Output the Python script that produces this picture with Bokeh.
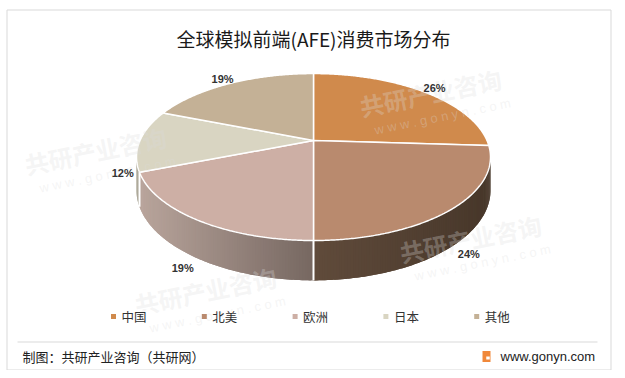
import numpy as np
from bokeh.plotting import figure
from bokeh.models import Range1d
from bokeh.core.properties import value
from bokeh.embed import file_html
from bokeh.resources import INLINE

# ---------------- data ----------------
categories = ["中国", "北美", "欧洲", "日本", "其他"]
shares = [26, 24, 19, 12, 19]
top_colors = ["#D08A4C", "#B98A6E", "#CDAFA5", "#D9D5C2", "#C4B196"]
side_left_colors = ["#7A5232", "#604B3B", "#B9A59C", "#AEA998", "#8E7E66"]
side_right_colors = ["#6A4628", "#47372A", "#766761", "#9E9A8A", "#7E6E58"]
title_text = "全球模拟前端(AFE)消费市场分布"
source_text = "制图：共研产业咨询（共研网）"
site_text = "www.gonyn.com"
wm_cn = "共研产业咨询"
wm_en = "w w w . g o n y n . c o m"

# ---------------- geometry (page pixel coords) ----------------
CX, CY = 313.0, 140.0      # projected pie centre
A, B = 173.5, 80.2         # half axes
E = 0.198                  # perspective factor
D = 32.0                   # thickness
FONT_CJK = "Noto Sans CJK SC"


def proj(theta_deg, r=1.0):
    t = np.radians(theta_deg)
    u = r * np.sin(t)
    v = -r * np.cos(t)
    w = 1 - E * v
    return CX + A * u / w, CY + B * v / w


def depth(theta_deg):
    v = -np.cos(np.radians(theta_deg))
    return D / (1 - E * v)


def hex2rgb(h):
    h = h.lstrip("#")
    return np.array([int(h[i:i + 2], 16) for i in (0, 2, 4)], dtype=float)


def lerp_color(c1, c2, t):
    c = hex2rgb(c1) * (1 - t) + hex2rgb(c2) * t
    return "#%02x%02x%02x" % tuple(int(round(x)) for x in c)


p = figure(width=617, height=370, x_range=Range1d(0, 617), y_range=Range1d(370, 0),
           output_backend="svg", toolbar_location=None, min_border=0,
           x_axis_type=None, y_axis_type=None)
p.grid.visible = False
p.outline_line_color = None
p.background_fill_color = "white"
p.border_fill_color = "white"

# outer border + footer separator
p.patch([6.5, 610.5, 610.5, 6.5], [9.5, 9.5, 369.5, 369.5], fill_color=None,
        line_color="#D9D9D9", line_width=1)
p.line([17, 597], [341.5, 341.5], line_color="#D9D9D9", line_width=1)

# slice angles
total = float(sum(shares))
starts = np.concatenate([[0], np.cumsum(shares)[:-1]]) / total * 360.0
ends = np.cumsum(shares) / total * 360.0

vis_a = np.degrees(np.arccos(-E))
vis_b = 360.0 - vis_a

# ---------------- sides ----------------
sx, sy, sc = [], [], []
for i in range(len(shares)):
    a, b = max(starts[i], vis_a), min(ends[i], vis_b)
    if a >= b:
        continue
    n = max(int((b - a) / 0.75), 2)
    th = np.linspace(a, b, n + 1)
    pts = [proj(t) for t in th]
    xs_all = [q[0] for q in pts]
    xmin, xmax = min(xs_all), max(xs_all)
    for k in range(n):
        k2 = min(k + 2, n)          # overlap next strip to hide seams
        idx = list(range(k, k2 + 1))
        xm = 0.5 * (pts[k][0] + pts[k + 1][0])
        tt = 0.0 if xmax == xmin else (xm - xmin) / (xmax - xmin)
        sx.append([pts[j][0] for j in idx] + [pts[j][0] for j in idx[::-1]])
        sy.append([pts[j][1] for j in idx] + [pts[j][1] + depth(th[j]) for j in idx[::-1]])
        sc.append(lerp_color(side_left_colors[i], side_right_colors[i], tt))
p.patches(sx, sy, fill_color=sc, line_color=None)

# white separators on the side
sep_x, sep_y = [], []
for ang in list(starts):
    if vis_a < ang < vis_b:
        x0, y0 = proj(ang)
        sep_x.append([x0, x0])
        sep_y.append([y0, y0 + depth(ang)])
p.multi_line(sep_x, sep_y, line_color="white", line_width=2)

# ---------------- top ----------------
tx, ty = [], []
for i in range(len(shares)):
    n = max(int((ends[i] - starts[i]) / 0.5), 2)
    th = np.linspace(starts[i], ends[i], n + 1)
    pts = [proj(t) for t in th]
    tx.append([CX] + [q[0] for q in pts])
    ty.append([CY] + [q[1] for q in pts])
p.patches(tx, ty, fill_color=top_colors, line_color="white", line_width=1.5)

# ---------------- watermarks ----------------
wm_pos = [(95, 150), (430, 92), (470, 238), (205, 290)]
p.text([q[0] for q in wm_pos], [q[1] for q in wm_pos], text=[wm_cn] * len(wm_pos),
       text_font=value(FONT_CJK), text_font_style="bold", text_font_size="24px",
       text_color="#DCDCDC", text_alpha=0.3, text_align="center", text_baseline="middle",
       angle=0.2)
p.text([q[0] + 12 for q in wm_pos], [q[1] + 24 for q in wm_pos], text=[wm_en] * len(wm_pos),
       text_font=value("Liberation Sans"), text_font_size="13px",
       text_color="#DCDCDC", text_alpha=0.3, text_align="center", text_baseline="middle",
       angle=0.2)

# ---------------- data labels ----------------
lx, ly, lt = [], [], []
for i in range(len(shares)):
    m = 0.5 * (starts[i] + ends[i])
    x, y = proj(m, 1.1)
    if -np.cos(np.radians(m)) > 0:
        y += depth(m)
    lx.append(x)
    ly.append(y)
    lt.append(f"{shares[i]}%")
p.text(lx, ly, text=lt, text_font=value("Liberation Sans"), text_font_style="bold",
       text_font_size="11px", text_color="#333333", text_align="center",
       text_baseline="middle")

# ---------------- title ----------------
p.text([313], [38], text=[title_text], text_font=value(FONT_CJK), text_font_size="19px",
       text_color="#1A1A1A", text_align="center", text_baseline="middle")

# ---------------- legend ----------------
leg_x0, leg_dx, leg_y = 113.0, 90.8, 316.0
gx = [leg_x0 + i * leg_dx for i in range(len(categories))]
p.rect(gx, [leg_y] * len(gx), width=5, height=5, fill_color=top_colors, line_color=None)
p.text([x + 8 for x in gx], [leg_y] * len(gx), text=categories, text_font=value(FONT_CJK),
       text_font_size="12.5px", text_color="#333333", text_align="left",
       text_baseline="middle")

# ---------------- footer ----------------
p.text([22], [356], text=[source_text], text_font=value(FONT_CJK), text_font_size="13px",
       text_color="#222222", text_align="left", text_baseline="middle")
p.rect([486], [356], width=8, height=11, fill_color="#F0883A", line_color=None)
p.rect([487.5], [357.5], width=3.5, height=3, fill_color="white", line_color=None)
p.text([500], [356], text=[site_text], text_font=value("Liberation Sans"),
       text_font_size="13px", text_color="#222222", text_align="left",
       text_baseline="middle")

open("out.html", "w").write(file_html(p, INLINE))
